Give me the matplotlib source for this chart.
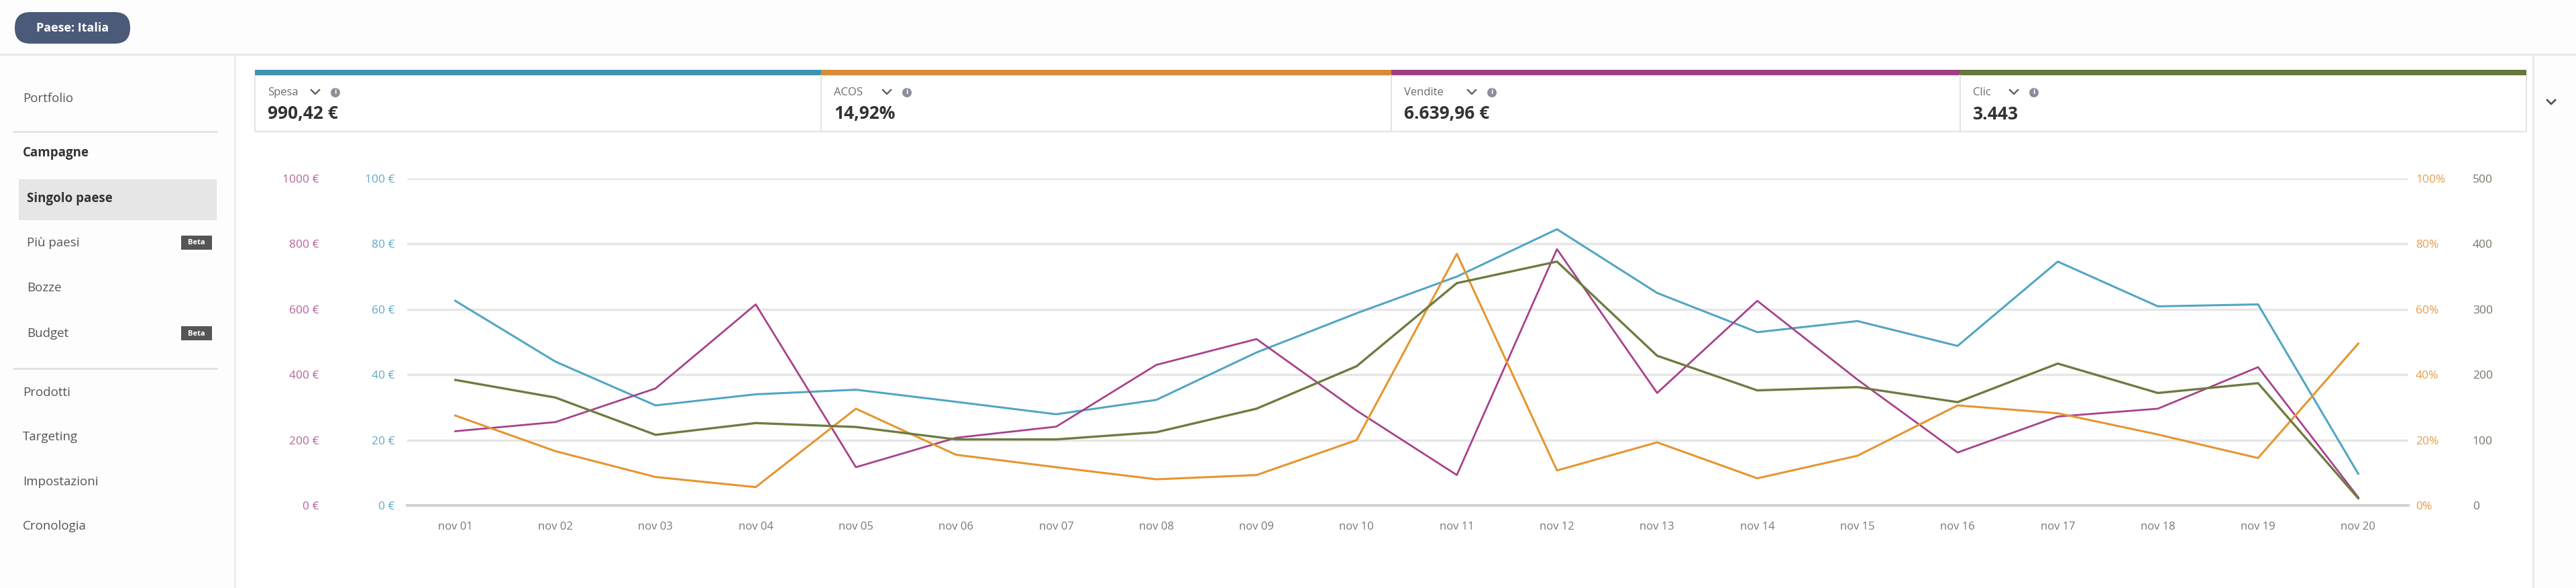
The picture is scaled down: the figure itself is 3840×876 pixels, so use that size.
import matplotlib
matplotlib.use("Agg")
import matplotlib.pyplot as plt
from matplotlib.patches import Rectangle, FancyBboxPatch, Circle
from matplotlib.lines import Line2D

plt.rcParams['font.family'] = ['Open Sans', 'DejaVu Sans']

# dati
giorni = ["nov 01", "nov 02", "nov 03", "nov 04", "nov 05", "nov 06", "nov 07",
          "nov 08", "nov 09", "nov 10", "nov 11", "nov 12", "nov 13", "nov 14",
          "nov 15", "nov 16", "nov 17", "nov 18", "nov 19", "nov 20"]
spesa = [62.6, 44.0, 30.6, 34.0, 35.4, 31.7, 27.9, 32.3, 46.8, 58.8,
         70.0, 84.5, 65.0, 53.0, 56.4, 48.8, 74.6, 60.9, 61.5, 9.7]
acos = [27.5, 16.6, 8.7, 5.6, 29.6, 15.5, 11.7, 8.0, 9.3, 20.0,
        77.0, 10.7, 19.3, 8.3, 15.2, 30.6, 28.2, 21.7, 14.5, 49.5]
vendite = [227, 255, 358, 615, 117, 207, 241, 430, 509, 290,
           93, 784, 344, 626, 385, 162, 272, 296, 423, 25]
clic = [192, 165, 108, 126, 120, 101, 101, 112, 148, 213,
        340, 373, 229, 176, 181, 158, 217, 172, 187, 11]

tick_spesa = [0, 20, 40, 60, 80, 100]
tick_vendite = [0, 200, 400, 600, 800, 1000]
tick_acos = [0, 20, 40, 60, 80, 100]
tick_clic = [0, 100, 200, 300, 400, 500]

metriche = ["Spesa", "ACOS", "Vendite", "Clic"]
totali = ["990,42 €", "14,92%", "6.639,96 €", "3.443"]

menu = ["Portfolio", "Campagne", "Singolo paese", "Più paesi", "Bozze", "Budget",
        "Prodotti", "Targeting", "Impostazioni", "Cronologia"]

c_spesa = "#52a5c4"
c_acos = "#e6952f"
c_vendite = "#a8418a"
c_clic = "#6e7b40"
barre = ["#3f93b2", "#d98b38", "#9e3f80", "#67763d"]

W, H = 3840, 876
fig = plt.figure(figsize=(W / 100, H / 100), dpi=100, facecolor="#fdfdfd")

# sfondo / interfaccia in coordinate pixel
bg = fig.add_axes([0, 0, 1, 1])
bg.set_xlim(0, W)
bg.set_ylim(H, 0)
bg.axis("off")

bg.add_patch(Rectangle((350, 81), 3426, 795, fc="white", ec="none"))
bg.add_line(Line2D([0, W], [81, 81], color="#e8e8e8", lw=2))
bg.add_line(Line2D([350, 350], [81, H], color="#ececec", lw=2))
bg.add_line(Line2D([3776, 3776], [81, H], color="#e8e8e8", lw=2))

# pill paese
bg.add_patch(FancyBboxPatch((22, 18), 172, 47, boxstyle="round,pad=0,rounding_size=23",
                            fc="#4b5a78", ec="none"))
bg.text(108, 42, "Paese: Italia", color="white", fontsize=13, fontweight="bold",
        ha="center", va="center")

# menu laterale
menu_y = [147, 228, 296, 362, 429, 497, 585, 651, 718, 784]
menu_x = [34, 34, 40, 40, 40, 40, 34, 34, 34, 34]
bg.add_patch(Rectangle((28, 267), 295, 61, fc="#e6e6e6", ec="none"))
for lbl, y, x in zip(menu, menu_y, menu_x):
    bold = lbl in ("Campagne", "Singolo paese")
    bg.text(x, y, lbl, fontsize=13.5, color="#333333" if bold else "#555555",
            fontweight="bold" if bold else "normal", va="center", ha="left")
for y in (196, 549):
    bg.add_line(Line2D([20, 323], [y, y], color="#e2e2e2", lw=2))
for y in (362, 497):
    bg.add_patch(Rectangle((270, y - 11), 46, 21, fc="#555555", ec="none"))
    bg.text(293, y, "Beta", fontsize=8, color="white", fontweight="bold",
            ha="center", va="center")

# schede metriche
card_x = [380, 1224, 2074, 2922, 3766]
chev_off = [90, 98, 120, 80]
for i, (nome, tot, col) in enumerate(zip(metriche, totali, barre)):
    x0, x1 = card_x[i], card_x[i + 1]
    bg.add_patch(Rectangle((x0, 112), x1 - x0, 84, fc="white", ec="#e4e4e4", lw=1.5))
    bg.add_patch(Rectangle((x0, 104), x1 - x0, 8, fc=col, ec="none"))
    bg.text(x0 + 19, 138, nome, fontsize=12, color="#6a6a6a", va="center")
    bg.text(x0 + 19, 170, tot, fontsize=19, color="#333333", fontweight="bold", va="center")
    cx = x0 + chev_off[i]
    bg.add_line(Line2D([cx - 6, cx, cx + 6], [134, 140, 134], color="#666666", lw=1.8))
    bg.add_patch(Circle((cx + 30, 138), 7, fc="#8a8f99", ec="none"))
    bg.text(cx + 30, 138, "i", fontsize=8, color="white", fontweight="bold",
            ha="center", va="center")
bg.add_line(Line2D([3797, 3803, 3809], [149, 155, 149], color="#555555", lw=2))

# grafico
left, right, top, bottom = 607, 3590, 266, 753
ax = fig.add_axes([left / W, (H - bottom) / H, (right - left) / W, (bottom - top) / H])
ax.patch.set_alpha(0)
x = list(range(len(giorni)))

ax_v = ax.twinx()
ax_a = ax.twinx()
ax_c = ax.twinx()

ax.plot(x, spesa, color=c_spesa, lw=2.2, clip_on=False, zorder=3)
ax_v.plot(x, vendite, color=c_vendite, lw=2.0, clip_on=False)
ax_a.plot(x, acos, color=c_acos, lw=2.2, clip_on=False)
ax_c.plot(x, clic, color=c_clic, lw=2.4, clip_on=False)

ax.set_xlim(-0.48, 19.5)
ax.set_ylim(0, 100)
ax_v.set_ylim(0, 1000)
ax_a.set_ylim(0, 100)
ax_c.set_ylim(0, 500)

ax.set_xticks(x)
ax.set_xticklabels(giorni, fontsize=12, color="#777777")
ax.tick_params(axis="x", length=0, pad=17)

ax.set_yticks(tick_spesa)
ax.set_yticklabels([f"{v} €" for v in tick_spesa], fontsize=12.5, color="#62a9c8")
ax.tick_params(axis="y", length=0, pad=13)
ax.yaxis.grid(True, color="#e6e6e6", lw=2.5)
ax.set_axisbelow(True)

ax_v.yaxis.tick_left()
ax_v.set_yticks(tick_vendite)
ax_v.set_yticklabels([f"{v} €" for v in tick_vendite], fontsize=12.5, color="#b9639c")
ax_v.tick_params(axis="y", length=0, pad=95)

ax_a.set_yticks(tick_acos)
ax_a.set_yticklabels([f"{v}%" for v in tick_acos], fontsize=12.5, color="#e89c4c")
ax_a.tick_params(axis="y", length=0, pad=8)

ax_c.set_yticks(tick_clic)
ax_c.set_yticklabels([str(v) for v in tick_clic], fontsize=12.5, color="#6f7866")
ax_c.tick_params(axis="y", length=0, pad=69)

for a in (ax, ax_v, ax_a, ax_c):
    for s in a.spines.values():
        s.set_visible(False)
ax.spines["bottom"].set_visible(True)
ax.spines["bottom"].set_color("#d2d2d2")
ax.spines["bottom"].set_linewidth(3)

fig.savefig("out.png", dpi=100, facecolor=fig.get_facecolor())
